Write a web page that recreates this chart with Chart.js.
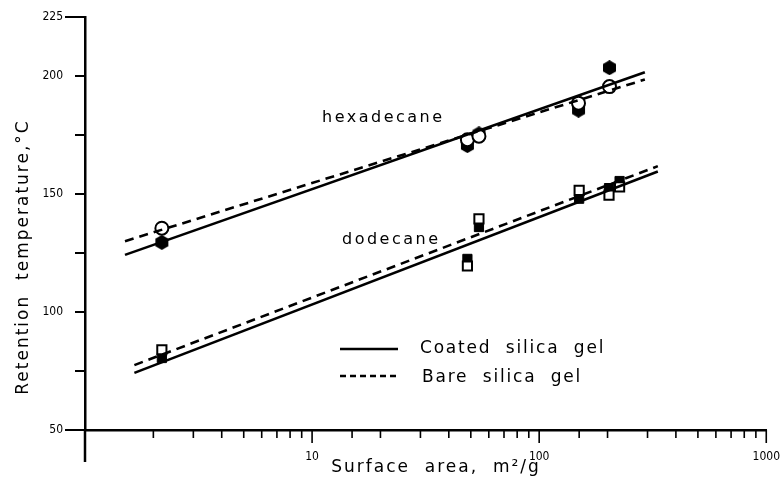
<!DOCTYPE html>
<html>
<head>
<meta charset="utf-8">
<script src="https://cdn.jsdelivr.net/npm/chart.js@4/dist/chart.umd.min.js"></script>
<style>
  html, body { margin: 0; padding: 0; background: #fff; }
  #wrap { width: 781px; height: 485px; position: relative; }
</style>
</head>
<body>
<div id="wrap"><canvas id="chart" width="781" height="485"></canvas></div>
<script>
// measured points, surface area (m2/g) vs retention temperature (C)
const hexAreas = [2.18, 48.3, 54.3, 149, 204];
const hexCoated = [129.5, 170.5, 175.5, 185.5, 203.5];
const hexBare = [135.5, 173, 174.5, 188.5, 195.5];

const dodAreas = [2.18, 48.3, 54.3, 150, 203, 226];
const dodCoated = [80.5, 122.5, 136, 148, 152.5, 155.5];
const dodBare = [84, 119.5, 139.5, 151.5, 149.5, 153];

// fitted lines (end points)
const hexLineX = [1.5, 292];
const hexCoatedLine = [124.2, 201.6];
const hexBareLine = [130, 198.5];
const dodLineX = [1.65, 333];
const dodCoatedLine = [74.2, 159.5];
const dodBareLine = [77.5, 161.8];

const yTicks = [50, 100, 150, 200, 225];
const xTicks = [10, 100, 1000];

const pairs = (xs, ys) => xs.map((x, i) => ({ x: x, y: ys[i] }));

// filled hexagon marker
function hexagon(size) {
  const c = document.createElement("canvas");
  c.width = size; c.height = size;
  const g = c.getContext("2d");
  const r = size / 2;
  g.beginPath();
  for (let i = 0; i < 6; i++) {
    const a = Math.PI / 6 + i * Math.PI / 3;
    const px = r + r * Math.cos(a), py = r + r * Math.sin(a);
    if (i === 0) g.moveTo(px, py); else g.lineTo(px, py);
  }
  g.closePath();
  g.fillStyle = "#000";
  g.fill();
  return c;
}
const hexMarker = hexagon(15);

const lineStyle = { showLine: true, pointRadius: 0, borderColor: "#000", borderWidth: 2.6, fill: false };
const dash = [9, 6];

const textPlugin = {
  id: "texts",
  afterDraw(chart) {
    const ctx = chart.ctx;
    const xs = chart.scales.x, ys = chart.scales.y;
    const x0 = xs.getPixelForValue(1), y0 = ys.getPixelForValue(50);
    ctx.save();
    ctx.strokeStyle = "#000";

    // tick marks
    ctx.lineWidth = 2;
    ctx.beginPath();
    ys.ticks.forEach((t) => {
      const py = ys.getPixelForValue(t.value);
      const len = (t.value === 225 || t.value === 50) ? 20 : 10;
      ctx.moveTo(x0 - len, py); ctx.lineTo(x0, py);
    });
    ctx.stroke();
    ctx.lineWidth = 1.6;
    ctx.beginPath();
    xs.ticks.forEach((t) => {
      const px = xs.getPixelForValue(t.value);
      let len = xTicks.includes(t.value) ? 13 : 8;
      if (t.value === 1) len = 32;
      ctx.moveTo(px, y0); ctx.lineTo(px, y0 + len);
    });
    ctx.stroke();
    ctx.lineWidth = 2.5;
    ctx.beginPath();
    ctx.moveTo(x0, y0); ctx.lineTo(x0, y0 + 32);
    ctx.stroke();

    ctx.fillStyle = "#000";
    ctx.font = "16px 'DejaVu Sans'";
    ctx.letterSpacing = "2.5px";
    ctx.textBaseline = "middle";
    ctx.textAlign = "left";
    ctx.fillText("hexadecane", 322, 118);
    ctx.fillText("dodecane", 342, 240);

    // legend
    ctx.font = "17px 'DejaVu Sans'";
    ctx.letterSpacing = "1.8px";
    ctx.fillText("Coated  silica  gel", 420, 349);
    ctx.fillText("Bare  silica  gel", 422, 378);
    ctx.lineWidth = 2.6;
    ctx.beginPath();
    ctx.moveTo(340, 349); ctx.lineTo(398, 349);
    ctx.stroke();
    ctx.setLineDash([6, 4]);
    ctx.beginPath();
    ctx.moveTo(340, 376); ctx.lineTo(396, 376);
    ctx.stroke();
    ctx.setLineDash([]);

    // axis titles
    ctx.font = "17px 'DejaVu Sans'";
    ctx.letterSpacing = "2px";
    ctx.textAlign = "center";
    ctx.fillText("Surface  area,  m²/g", 436, 468);
    ctx.translate(24, 257);
    ctx.rotate(-Math.PI / 2);
    ctx.fillText("Retention  temperature,°C", 0, 0);
    ctx.restore();
  }
};

new Chart(document.getElementById("chart"), {
  type: "scatter",
  data: {
    datasets: [
      Object.assign({ data: pairs(hexLineX, hexCoatedLine) }, lineStyle),
      Object.assign({ data: pairs(hexLineX, hexBareLine), borderDash: dash }, lineStyle),
      Object.assign({ data: pairs(dodLineX, dodCoatedLine) }, lineStyle),
      Object.assign({ data: pairs(dodLineX, dodBareLine), borderDash: dash }, lineStyle),
      {
        data: pairs(hexAreas, hexBare),
        pointStyle: "circle",
        pointRadius: 6.5,
        backgroundColor: "#fff",
        borderColor: "#000",
        borderWidth: 2,
      },
      {
        data: pairs(hexAreas, hexCoated),
        pointStyle: hexMarker,
      },
      {
        data: pairs(dodAreas, dodBare),
        pointStyle: "rect",
        pointRadius: 6.5,
        backgroundColor: "#fff",
        borderColor: "#000",
        borderWidth: 2,
      },
      {
        data: pairs(dodAreas, dodCoated),
        pointStyle: "rect",
        pointRadius: 6.5,
        backgroundColor: "#000",
        borderColor: "#000",
        borderWidth: 1,
      },
    ],
  },
  options: {
    responsive: false,
    animation: false,
    layout: { padding: { left: 0, right: 12, top: 17, bottom: 0 } },
    plugins: {
      legend: { display: false },
      tooltip: { enabled: false },
    },
    scales: {
      x: {
        type: "logarithmic",
        min: 1,
        max: 1000,
        afterFit: (s) => { s.height = 55; },
        border: { color: "#000", width: 2.5 },
        grid: { display: false, drawTicks: true, tickLength: 19 },
        ticks: {
          autoSkip: false,
          maxRotation: 0,
          padding: 1,
          color: "#000",
          font: { family: "'DejaVu Sans Condensed', 'DejaVu Sans'", size: 12 },
          callback: (v) => (xTicks.includes(v) ? String(v) : ""),
        },
      },
      y: {
        min: 50,
        max: 225,
        afterFit: (s) => { s.width = 85; },
        border: { color: "#000", width: 2.5 },
        grid: { display: false, drawTicks: true, tickLength: 20 },
        ticks: {
          stepSize: 25,
          padding: 2,
          color: "#000",
          font: { family: "'DejaVu Sans Condensed', 'DejaVu Sans'", size: 12 },
          callback: (v) => (yTicks.includes(v) ? String(v) : ""),
        },
      },
    },
  },
  plugins: [textPlugin],
});
</script>
</body>
</html>
